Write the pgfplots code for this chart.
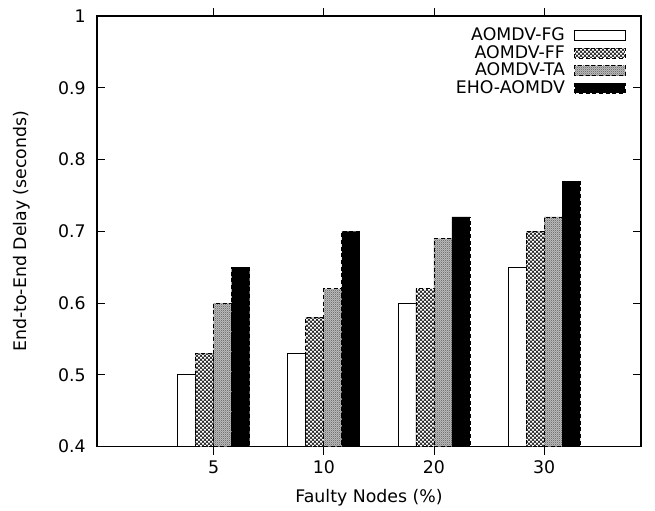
\documentclass[border=0pt]{standalone}
\usepackage{fontspec}
\setmainfont{DejaVu Sans}
\usepackage{pgfplots}
\pgfplotsset{compat=1.18}
\usetikzlibrary{patterns}
\pgfdeclarepatternformonly{whitedots}{\pgfqpoint{-1pt}{-1pt}}{\pgfqpoint{4pt}{4pt}}{\pgfqpoint{3pt}{3pt}}{%
  \pgfpathcircle{\pgfqpoint{0.75pt}{0.75pt}}{1.05pt}\pgfusepath{fill}%
  \pgfpathcircle{\pgfqpoint{2.25pt}{2.25pt}}{1.05pt}\pgfusepath{fill}}
\pgfdeclarepatternformonly{finedots}{\pgfqpoint{0pt}{0pt}}{\pgfqpoint{1.6pt}{1.6pt}}{\pgfqpoint{1.6pt}{1.6pt}}{%
  \pgfpathrectangle{\pgfqpoint{0pt}{0pt}}{\pgfqpoint{0.8pt}{0.8pt}}\pgfusepath{fill}%
  \pgfpathrectangle{\pgfqpoint{0.8pt}{0.8pt}}{\pgfqpoint{0.8pt}{0.8pt}}\pgfusepath{fill}}
\begin{document}
\fontsize{13pt}{15pt}\selectfont
\begin{tikzpicture}
\begin{axis}[
  name=ax,
  scale only axis,
  width=408pt, height=323pt,
  xmin=-1.06, xmax=3.88,
  ymin=0.4, ymax=1,
  xtick={0,1,2,3},
  xticklabels={5,10,20,30},
  ytick={0.4,0.5,0.6,0.7,0.8,0.9,1},
  yticklabels={0.4,0.5,0.6,0.7,0.8,0.9,1},
  yticklabel style={xshift=-4pt},
  tick align=inside,
  tick style={black, line width=0.6pt},
  major tick length=6pt,
  axis line style={line width=0.8pt},
  ybar=0pt,
  bar width=13.5pt,
  xlabel={Faulty Nodes (\%)},
  ylabel={End-to-End Delay (seconds)},
  every axis x label/.style={at={(axis description cs:0.5,-0.118)}, anchor=center},
  every axis y label/.style={at={(axis description cs:-0.138,0.5)}, rotate=90, anchor=center},
  /pgf/number format/assume math mode=true,
  legend style={draw=none, fill=none, at={(rel axis cs:0.98,0.985)}, anchor=north east,
    legend cell align=right, row sep=-2.5pt, font=\fontsize{13pt}{15pt}\selectfont,
    /tikz/every odd column/.append style={column sep=5pt}},
  legend plot pos=right,
  legend image code/.code={\draw[#1] (0pt,-3.8pt) rectangle (38pt,3.8pt);},
]
\addplot[draw=black, fill=white, line width=0.7pt] coordinates {(0,0.50) (1,0.53) (2,0.60) (3,0.65)};
\addlegendentry{AOMDV-FG}
\addplot[draw=black, densely dashed, fill=black, postaction={pattern=whitedots, pattern color=white}, line width=0.7pt] coordinates {(0,0.53) (1,0.58) (2,0.62) (3,0.70)};
\addlegendentry{AOMDV-FF}
\addplot[draw=black, densely dashed, fill=black!25, postaction={pattern=finedots, pattern color=black!55}, line width=0.7pt] coordinates {(0,0.60) (1,0.62) (2,0.69) (3,0.72)};
\addlegendentry{AOMDV-TA}
\addplot[draw=black, densely dashed, fill=black, line width=0.7pt] coordinates {(0,0.65) (1,0.70) (2,0.72) (3,0.77)};
\addlegendentry{EHO-AOMDV}
\end{axis}
\pgfresetboundingbox
\path ([shift={(-72.75pt,-48pt)}]ax.south west) rectangle ([shift={(10.5pt,12pt)}]ax.north east);
\end{tikzpicture}
\end{document}
